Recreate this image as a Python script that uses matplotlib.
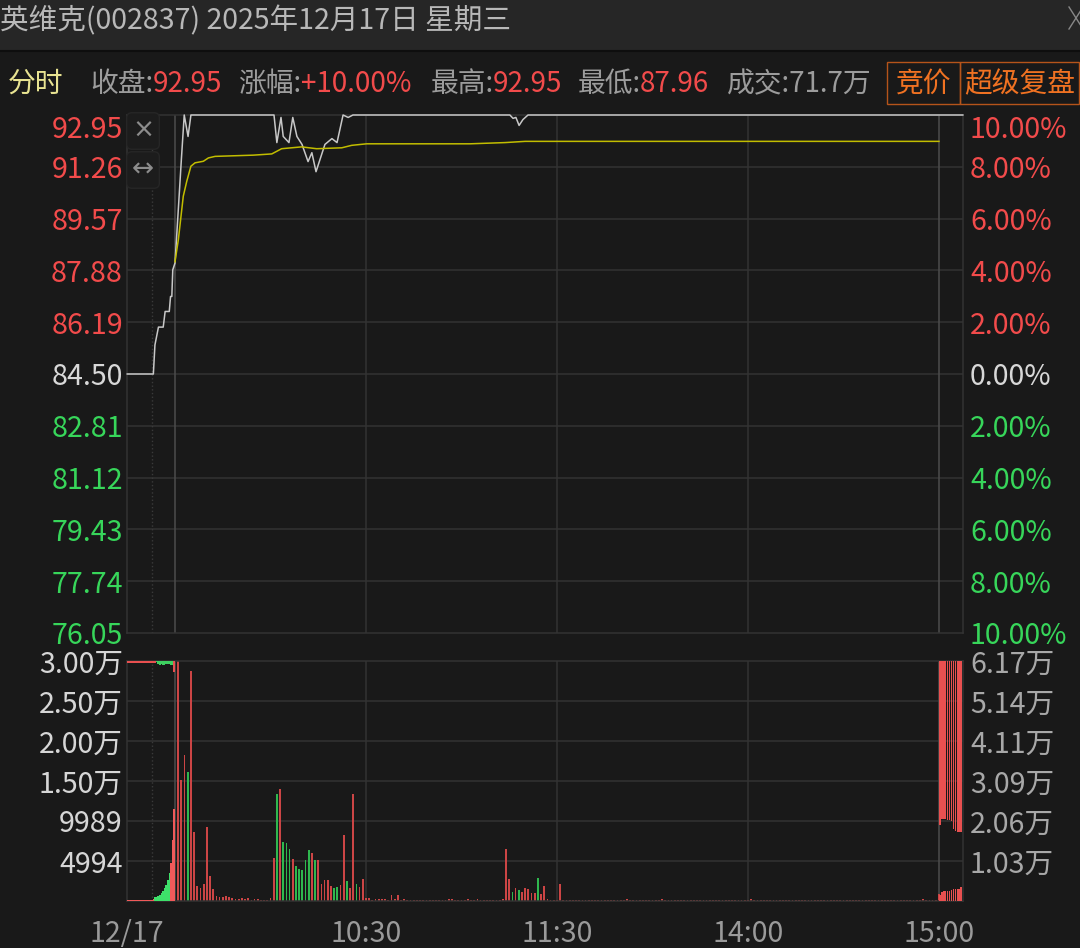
import matplotlib.pyplot as plt
from matplotlib.patches import Rectangle
from matplotlib.lines import Line2D

plt.rcParams['font.family'] = ['Noto Sans CJK SC', 'DejaVu Sans']

# ---- data ----
title = '英维克(002837) 2025年12月17日 星期三'
prev_close = 84.50
price_ticks = [76.05, 77.74, 79.43, 81.12, 82.81, 84.50, 86.19, 87.88, 89.57, 91.26, 92.95]
pct_labels = ['10.00%', '8.00%', '6.00%', '4.00%', '2.00%', '0.00%',
              '2.00%', '4.00%', '6.00%', '8.00%', '10.00%']

# time in minutes from 09:30 (negative: opening auction, >240: closing auction)
price_t = [-15.0, -6.8, -6.3, -5.2, -3.7, -3.1, -1.8, -1.4, -1.0, -0.7, 0, 1.0, 2.0, 2.9,
           4.1, 5.0, 31.1, 32.0, 33.3, 34.0, 35.8, 37.0, 38.3, 39.9, 41.8, 43.0, 44.3,
           47.1, 49.3, 50.9, 52.8, 54.4, 55.9, 105.2, 106.2, 107.1, 108.1, 109.3, 110.9, 247.5]
price_v = [84.50, 84.50, 85.45, 86.03, 86.03, 86.54, 86.54, 87.03, 87.03, 87.90, 88.12,
           89.80, 91.50, 92.95, 92.25, 92.95, 92.95, 92.05, 92.87, 92.25, 92.05, 92.87,
           92.25, 91.99, 91.43, 91.72, 91.10, 91.99, 92.18, 92.05, 92.95, 92.87, 92.95,
           92.95, 92.84, 92.87, 92.61, 92.80, 92.95, 92.95]
avg_t = [0, 1.05, 2.6, 3.7, 5.0, 6.3, 8.9, 10.5, 12.6, 24.6, 30.4, 33.5, 39.8, 44.5,
         52.4, 55.5, 60.2, 92.7, 103.7, 110.0, 240]
avg_v = [88.16, 88.88, 90.30, 90.79, 91.28, 91.39, 91.44, 91.55, 91.60, 91.64, 91.68,
         91.85, 91.91, 91.85, 91.88, 91.96, 92.01, 92.01, 92.05, 92.09, 92.09]

# minute volumes 09:31 .. 15:00 (shares)
minutes = list(range(1, 241))
volume = [
    30500, 15060, 18180, 16100, 28660, 8610, 1870, 1660, 2160, 9240,
    3120, 1460, 580, 500, 500, 580, 500, 370, 290, 210,
    420, 210, 420, 170, 210, 210, 170, 170, 100, 420,
    5410, 13400, 13940, 7360, 7280, 6450, 5200, 4330, 4040, 3830,
    5160, 6320, 6030, 5080, 5160, 2080, 2580, 2580, 1830, 1660,
    1750, 1960, 8200, 2500, 1660, 13310, 2160, 1750, 2790, 370,
    420, 170, 290, 290, 210, 210, 100, 710, 210, 710,
    170, 210, 120, 120, 120, 120, 120, 120, 120, 120,
    120, 120, 120, 120, 120, 210, 210, 120, 120, 120,
    120, 210, 120, 120, 210, 120, 120, 120, 120, 120,
    120, 120, 210, 6530, 2700, 1120, 1660, 1330, 1120, 1660,
    1460, 1000, 1000, 2910, 830, 1870, 210, 120, 120, 120,
    2160, 120, 120, 120, 120, 120, 120, 120, 120, 120,
    120, 120, 120, 120, 120, 120, 120, 120, 120, 120,
    120, 250, 120, 120, 120, 120, 120, 120, 120, 120,
    120, 120, 300, 120, 120, 120, 120, 120, 120, 120,
    120, 120, 120, 120, 120, 120, 120, 120, 120, 120,
    120, 120, 120, 120, 120, 120, 120, 120, 120, 120,
    250, 120, 120, 120, 120, 120, 120, 120, 120, 120,
    120, 120, 120, 120, 120, 120, 120, 120, 120, 120,
    120, 120, 120, 120, 120, 120, 120, 120, 120, 120,
    120, 120, 120, 120, 120, 120, 120, 120, 120, 120,
    120, 120, 120, 120, 120, 120, 120, 120, 120, 120,
    120, 120, 120, 120, 250, 120, 120, 120, 120, 870,
]
green_minutes = [4, 32, 34, 35, 36, 38, 39, 40, 41, 42, 44, 50, 51, 54, 57, 106, 108, 114]

# opening auction: matched volume (bottom) and unmatched volume (hanging from top)
open_t = [-14.75, -14.25, -13.75, -13.25, -12.75, -12.25, -11.75, -11.25, -10.75, -10.25,
          -9.75, -9.25, -8.75, -8.25, -7.75, -7.25, -6.75, -6.25, -5.75, -5.25,
          -4.75, -4.25, -3.75, -3.25, -2.75, -2.25, -1.75, -1.25, -0.75, -0.25]
open_match = [250, 250, 250, 250, 250, 250, 250, 250, 250, 250,
              250, 250, 250, 250, 250, 250, 500, 900, 1000, 1300,
              1550, 2050, 2600, 3350, 4100, 5400, 7200, 9750, 15700, 23650]
open_match_up = [True] * 17 + [False] * 10 + [True] * 3
open_unmatch = [400, 400, 400, 400, 400, 400, 400, 400, 400, 400,
                400, 400, 400, 400, 400, 600, 600, 600, 300, 800,
                1000, 700, 900, 1000, 800, 700, 800, 900, 900, 2800]
open_unmatch_up = [True] * 18 + [False] * 11 + [True]

# closing auction
close_t = [240.35, 240.95, 241.55, 242.15, 242.75, 243.35, 243.95, 244.55, 245.15, 245.75,
           246.35, 246.95]
close_match = [1540, 2400, 2500, 2550, 2600, 2600, 2700, 3000, 3050, 3100, 3100, 3600]
close_unmatch = [42200, 40600, 40600, 40700, 40800, 40900, 41200, 43100, 43600, 43900,
                 43900, 43900]

vol_ticks = [0, 4994.3, 9988.7, 14983, 19977.3, 24971.7, 29966]
vol_labels = ['', '4994', '9989', '1.50万', '2.00万', '2.50万', '3.00万']
auc_ticks = [0, 10283.3, 20566.7, 30850, 41133.3, 51416.7, 61700]
auc_labels = ['', '1.03万', '2.06万', '3.09万', '4.11万', '5.14万', '6.17万']

time_ticks = [-15.08, 60, 120, 180, 240]
time_labels = ['12/17', '10:30', '11:30', '14:00', '15:00']

# ---- style ----
BG = '#191919'
GRID = '#333333'
RED = '#f24b4b'
GREEN = '#37d65a'
FS = 20.6
W, H = 1080, 948
XLIM = (-15.08, 247.56)


def fx(px):
    return px / W


def fy(py):
    return 1 - py / H


fig = plt.figure(figsize=(10.8, 9.48), dpi=100, facecolor=BG)

# title bar
fig.patches.append(Rectangle((0, fy(50)), 1, 50 / H, transform=fig.transFigure,
                             facecolor='#262626', edgecolor='none'))
fig.add_artist(Line2D([0, 1], [fy(51), fy(51)], color='#0e0e0e', lw=1.5))
fig.text(fx(0), fy(21), title, color='#b8b8b8', fontsize=FS, va='center', ha='left')
fig.add_artist(Line2D([fx(1069), fx(1083)], [fy(7), fy(29)], color='#888888', lw=1))
fig.add_artist(Line2D([fx(1069), fx(1083)], [fy(29), fy(7)], color='#888888', lw=1))

# info bar
yi = fy(84)
fig.text(fx(8), yi, '分时', color='#e8e391', fontsize=20, va='center')
info = [(90, '收盘:', '#9c9c9c'), (153, '92.95', RED),
        (238, '涨幅:', '#9c9c9c'), (301, '+10.00%', RED),
        (431, '最高:', '#9c9c9c'), (493, '92.95', RED),
        (578, '最低:', '#9c9c9c'), (640, '87.96', RED),
        (727, '成交:71.7万', '#9c9c9c')]
for x0, s, c in info:
    fig.text(fx(x0), yi, s, color=c, fontsize=20, va='center')
for x0, x1, s in [(887, 960, '竞价'), (960, 1079, '超级复盘')]:
    fig.patches.append(Rectangle((fx(x0), fy(104)), fx(x1) - fx(x0), 42 / H,
                                 transform=fig.transFigure, facecolor='none',
                                 edgecolor='#b5541a', lw=1))
    fig.text(fx((x0 + x1) / 2), yi, s, color='#f07222', fontsize=20, va='center', ha='center')

# ---- price panel ----
ax = fig.add_axes([fx(127), fy(633), 836 / W, 518 / H], facecolor=BG)
ax.set_xlim(*XLIM)
ax.set_ylim(price_ticks[0], price_ticks[-1])
for p in price_ticks[1:-1]:
    ax.axhline(p, color=GRID, lw=1.1, zorder=0)
for t in [60, 120, 180]:
    ax.axvline(t, color=GRID, lw=1.1, zorder=0)
for t in [0, 240]:
    ax.axvline(t, color='#4c4c4c', lw=1.1, zorder=0)
ax.axvline(-7.2, color='#3a3a3a', lw=1, ls=':', zorder=0)
ax.plot(price_t, price_v, color='#c8c8c8', lw=1.1, zorder=3, clip_on=False)
ax.plot(avg_t, avg_v, color='#c2bd00', lw=1.1, zorder=3)
for s in ax.spines.values():
    s.set_color(GRID)
    s.set_linewidth(1.1)
ax.set_xticks([])
ax.set_yticks(price_ticks)
ax.set_yticklabels([f'{p:.2f}' for p in price_ticks])
ax.tick_params(axis='y', length=0, pad=3, labelsize=FS)

axr = ax.twinx()
axr.set_ylim(ax.get_ylim())
axr.set_yticks(price_ticks)
axr.set_yticklabels(pct_labels)
axr.tick_params(axis='y', length=0, pad=5, labelsize=FS)
for s in axr.spines.values():
    s.set_visible(False)

for labs in [ax.get_yticklabels(), axr.get_yticklabels()]:
    for lab, p in zip(labs, price_ticks):
        if p > prev_close:
            lab.set_color(RED)
        elif p < prev_close:
            lab.set_color(GREEN)
        else:
            lab.set_color('#d8d8d8')
    labs[-1].set_verticalalignment('top')

# small tool icons
for py, s in [(131, '×'), (170, '↔')]:
    fig.text(fx(143), fy(py), s, color='#8c8c8c', fontsize=19, ha='center', va='center',
             family=['DejaVu Sans'],
             bbox=dict(boxstyle='round,pad=0.2', facecolor='#1c1c1c', edgecolor='#262626'))

# ---- volume panel ----
av = fig.add_axes([fx(127), fy(901), 836 / W, 240 / H], facecolor=BG)
av.set_xlim(*XLIM)
av.set_ylim(vol_ticks[0], vol_ticks[-1])
for v in vol_ticks[1:-1]:
    av.axhline(v, color=GRID, lw=1.1, zorder=0)
for t in [60, 120, 180]:
    av.axvline(t, color=GRID, lw=1.1, zorder=0)
for t in [0, 240]:
    av.axvline(t, color='#4c4c4c', lw=1.1, zorder=0)
av.axvline(-7.2, color='#3a3a3a', lw=1, ls=':', zorder=0)
bar_colors = ['#2fb84e' if m in green_minutes else '#cc4545' for m in minutes]
av.bar(minutes, volume, width=0.55, color=bar_colors, zorder=2)
for s in av.spines.values():
    s.set_color(GRID)
    s.set_linewidth(1.1)
av.set_yticks(vol_ticks)
av.set_yticklabels(vol_labels)
av.tick_params(axis='y', length=0, pad=3, labelsize=FS, labelcolor='#d6d6d6')
av.set_xticks(time_ticks)
av.set_xticklabels(time_labels)
av.tick_params(axis='x', length=0, pad=13, labelsize=FS, labelcolor='#9a9a9a')

# auction volume, right scale
aa = av.twinx()
aa.set_ylim(auc_ticks[0], auc_ticks[-1])
aa.bar(open_t, open_match, width=0.5,
       color=['#f05a5a' if u else '#3ee06a' for u in open_match_up], zorder=2)
aa.bar(close_t, close_match, width=0.45, color='#e85050', zorder=2)
aa.set_yticks(auc_ticks)
aa.set_yticklabels(auc_labels)
aa.tick_params(axis='y', length=0, pad=5, labelsize=FS, labelcolor='#a8a8a8')
for s in aa.spines.values():
    s.set_visible(False)

# unmatched auction volume hangs from the top
ah = av.twinx()
ah.set_ylim(auc_ticks[-1], auc_ticks[0])
ah.bar(open_t, open_unmatch, width=0.5,
       color=['#e85050' if u else '#3ecf60' for u in open_unmatch_up], zorder=2)
ah.bar(close_t, close_unmatch, width=0.45, color='#e85050', zorder=2)
ah.set_yticks([])
for s in ah.spines.values():
    s.set_visible(False)

fig.savefig('out.png', dpi=100, facecolor=BG)
